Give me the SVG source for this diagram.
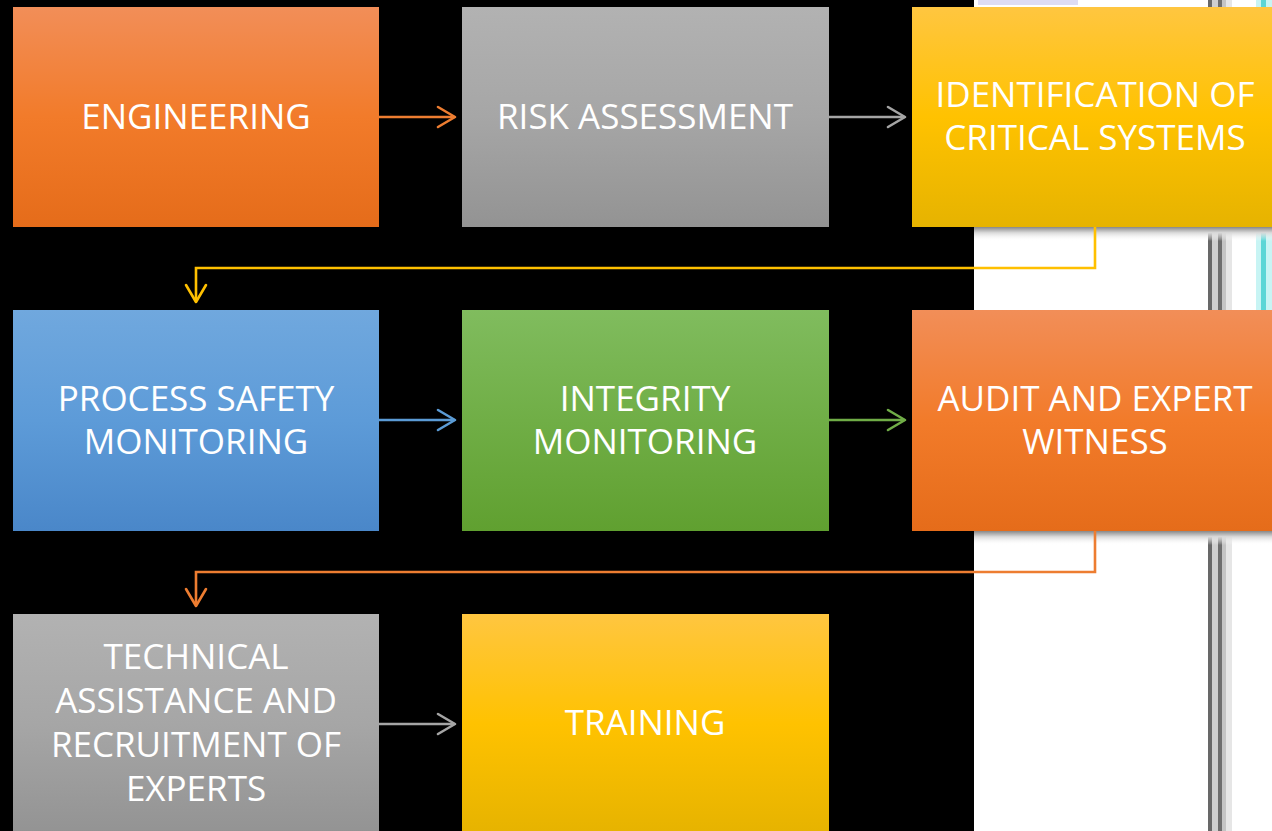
<svg xmlns="http://www.w3.org/2000/svg" width="1272" height="831" viewBox="0 0 1272 831">
<style>
.lbl{font-family:"Open Sans","Noto Sans","Liberation Sans",sans-serif;font-size:35px;fill:#ffffff;text-anchor:middle}
.con{fill:none;stroke-width:2.6;stroke-linecap:round;stroke-linejoin:miter}
.head{fill:none;stroke-width:2.6;stroke-linecap:round;stroke-linejoin:round}
</style>
<defs>
<linearGradient id="gOrange" x1="0" y1="0" x2="0" y2="1">
<stop offset="0" stop-color="#F28E58"/><stop offset="0.5" stop-color="#F27B2A"/><stop offset="1" stop-color="#E56C1A"/>
</linearGradient>
<linearGradient id="gGray" x1="0" y1="0" x2="0" y2="1">
<stop offset="0" stop-color="#B2B2B2"/><stop offset="0.5" stop-color="#A6A6A6"/><stop offset="1" stop-color="#939393"/>
</linearGradient>
<linearGradient id="gYellow" x1="0" y1="0" x2="0" y2="1">
<stop offset="0" stop-color="#FFC640"/><stop offset="0.5" stop-color="#FFC200"/><stop offset="1" stop-color="#E6B300"/>
</linearGradient>
<linearGradient id="gBlue" x1="0" y1="0" x2="0" y2="1">
<stop offset="0" stop-color="#70A8DE"/><stop offset="0.5" stop-color="#5D9BD8"/><stop offset="1" stop-color="#4A87C9"/>
</linearGradient>
<linearGradient id="gGreen" x1="0" y1="0" x2="0" y2="1">
<stop offset="0" stop-color="#80BC5E"/><stop offset="0.5" stop-color="#70AE46"/><stop offset="1" stop-color="#60A030"/>
</linearGradient>
<linearGradient id="gShadow" x1="0" y1="0" x2="0" y2="1">
<stop offset="0" stop-color="#888888"/><stop offset="0.4" stop-color="#d8d8d8"/><stop offset="1" stop-color="#ffffff" stop-opacity="0"/>
</linearGradient>
</defs>

<!-- background -->
<rect x="0" y="0" width="1272" height="831" fill="#000000"/>
<rect x="974" y="0" width="298" height="831" fill="#ffffff"/>
<rect x="978" y="0" width="100" height="5" fill="#c8c4ec" opacity="0.6"/>
<rect x="1208" y="0" width="4" height="831" fill="#686868"/>
<rect x="1212" y="0" width="6" height="831" fill="#cfcfcf"/>
<rect x="1218" y="0" width="4" height="831" fill="#6e6e6e"/>
<rect x="1222" y="0" width="4" height="831" fill="#c4c4c4"/>
<rect x="1226" y="0" width="6" height="831" fill="#e6e6e6"/>
<rect x="1256" y="0" width="16" height="531" fill="#c8f4f4"/>
<rect x="1261" y="0" width="5" height="531" fill="#5cd6d6"/>
<rect x="974" y="227" width="298" height="14" fill="url(#gShadow)"/>
<rect x="974" y="531" width="298" height="14" fill="url(#gShadow)"/>

<!-- connectors -->
<g id="connectors">
<path class="con" stroke="#ED7D31" d="M379,117 H454"/>
<path class="head" stroke="#ED7D31" d="M438,107 L455,117 L438,127"/>
<path class="con" stroke="#A5A5A5" d="M829,117 H904"/>
<path class="head" stroke="#A5A5A5" d="M888,107 L905,117 L888,127"/>
<path class="con" stroke="#FFC000" d="M1095,227 V268 H196 V301"/>
<path class="head" stroke="#FFC000" d="M186,285 L196,302 L206,285"/>
<path class="con" stroke="#5B9BD5" d="M379,420 H454"/>
<path class="head" stroke="#5B9BD5" d="M438,410 L455,420 L438,430"/>
<path class="con" stroke="#70AD47" d="M829,420 H904"/>
<path class="head" stroke="#70AD47" d="M888,410 L905,420 L888,430"/>
<path class="con" stroke="#ED7D31" d="M1095,531 V572 H196 V605"/>
<path class="head" stroke="#ED7D31" d="M186,589 L196,606 L206,589"/>
<path class="con" stroke="#A5A5A5" d="M379,724 H454"/>
<path class="head" stroke="#A5A5A5" d="M438,714 L455,724 L438,734"/>
</g>

<g id="engineering">
<rect x="13" y="7" width="366" height="220" fill="url(#gOrange)"/>
<text class="lbl" x="196" y="129">ENGINEERING</text>
</g>
<g id="risk-assessment">
<rect x="462" y="7" width="367" height="220" fill="url(#gGray)"/>
<text class="lbl" x="645" y="129">RISK ASSESSMENT</text>
</g>
<g id="identification">
<rect x="912" y="7" width="366" height="220" fill="url(#gYellow)"/>
<text class="lbl" x="1095" y="107">IDENTIFICATION OF</text>
<text class="lbl" x="1095" y="150">CRITICAL SYSTEMS</text>
</g>
<g id="process-safety">
<rect x="13" y="310" width="366" height="221" fill="url(#gBlue)"/>
<text class="lbl" x="196" y="411">PROCESS SAFETY</text>
<text class="lbl" x="196" y="454">MONITORING</text>
</g>
<g id="integrity">
<rect x="462" y="310" width="367" height="221" fill="url(#gGreen)"/>
<text class="lbl" x="645" y="411">INTEGRITY</text>
<text class="lbl" x="645" y="454">MONITORING</text>
</g>
<g id="audit">
<rect x="912" y="310" width="366" height="221" fill="url(#gOrange)"/>
<text class="lbl" x="1095" y="411">AUDIT AND EXPERT</text>
<text class="lbl" x="1095" y="454">WITNESS</text>
</g>
<g id="technical">
<rect x="13" y="614" width="366" height="220" fill="url(#gGray)"/>
<text class="lbl" x="196" y="669">TECHNICAL</text>
<text class="lbl" x="196" y="713">ASSISTANCE AND</text>
<text class="lbl" x="196" y="757">RECRUITMENT OF</text>
<text class="lbl" x="196" y="801">EXPERTS</text>
</g>
<g id="training">
<rect x="462" y="614" width="367" height="220" fill="url(#gYellow)"/>
<text class="lbl" x="645" y="735">TRAINING</text>
</g>
</svg>
